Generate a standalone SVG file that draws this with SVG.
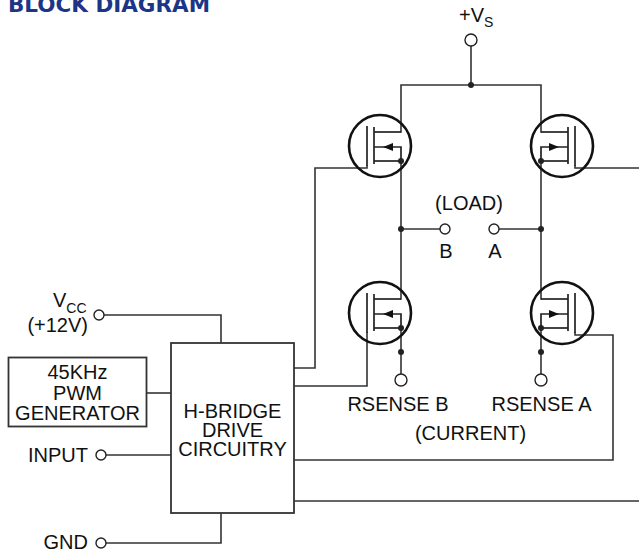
<svg xmlns="http://www.w3.org/2000/svg" width="639" height="552" viewBox="0 0 639 552">
<style>
.w{fill:none;stroke:#333;stroke-width:1.6;stroke-linecap:square}
.box{fill:#fff;stroke:#333;stroke-width:1.8}
.term{fill:#fff;stroke:#222;stroke-width:1.4}
.dot{fill:#222}
.t{font-family:"Liberation Sans",Arial,sans-serif;font-size:20px;fill:#111}
.sub{font-size:14px}
.title{font-family:"DejaVu Sans","Liberation Sans",sans-serif;font-weight:bold;font-size:22px;fill:#1c3687}
.fc{fill:none;stroke:#111;stroke-width:2.6}
.fl{fill:none;stroke:#222;stroke-width:1.7}
</style>
<defs>
<g id="nfet">
<circle class="fc" cx="-21" cy="0" r="31"/>
<line class="fl" x1="-34" y1="-20" x2="-34" y2="20"/>
<line class="fl" x1="-27" y1="-19" x2="-27" y2="18"/>
<polyline class="fl" points="-27,-14 0,-14"/>
<polyline class="fl" points="-27,1 0,1 0,15"/>
<line class="fl" x1="-27" y1="15" x2="0" y2="15"/>
<polygon fill="#111" points="-18,1 -8,-3 -8,5"/>
<circle class="dot" cx="0" cy="15" r="3"/>
</g>
</defs>
<rect width="639" height="552" fill="#fff"/>
<text id="title" class="title" x="8" y="12" textLength="202" lengthAdjust="spacingAndGlyphs">BLOCK DIAGRAM</text>

<g id="connectors">
<line class="w" x1="471" y1="46" x2="471" y2="85"/>
<polyline class="w" points="401,132 401,85 541,85 541,132"/>
<line class="w" x1="401" y1="161" x2="401" y2="299"/>
<line class="w" x1="541" y1="161" x2="541" y2="299"/>
<line class="w" x1="401" y1="328" x2="401" y2="374"/>
<line class="w" x1="541" y1="328" x2="541" y2="374"/>
<line class="w" x1="401" y1="229" x2="440" y2="229"/>
<line class="w" x1="499" y1="229" x2="541" y2="229"/>
<polyline class="w" points="367,166 367,168 315,168 315,368 294,368"/>
<polyline class="w" points="575,166 575,168 639,168"/>
<polyline class="w" points="367,333 367,386 294,386"/>
<polyline class="w" points="575,333 575,335 613,335 613,460 294,460"/>
<line class="w" x1="294" y1="501" x2="639" y2="501"/>
<polyline class="w" points="104,315 221,315 221,343"/>
<line class="w" x1="146.5" y1="393" x2="171" y2="393"/>
<line class="w" x1="106" y1="455" x2="171" y2="455"/>
<polyline class="w" points="106,543 221,543 221,513"/>
<circle class="dot" cx="471" cy="85" r="3"/>
<circle class="dot" cx="401" cy="229" r="3"/>
<circle class="dot" cx="541" cy="229" r="3"/>
<circle class="dot" cx="401" cy="352" r="3"/>
<circle class="dot" cx="541" cy="352" r="3"/>
</g>

<g id="vs">
<circle class="term" cx="471" cy="40" r="6"/>
<text class="t" x="459" y="22">+V<tspan class="sub" dy="5">S</tspan></text>
</g>

<g id="q1"><use href="#nfet" transform="translate(401,146)"/></g>
<g id="q2"><use href="#nfet" transform="translate(541,146) scale(-1,1)"/></g>
<g id="q3"><use href="#nfet" transform="translate(401,313)"/></g>
<g id="q4"><use href="#nfet" transform="translate(541,313) scale(-1,1)"/></g>

<g id="load">
<circle class="term" cx="445" cy="229" r="5"/>
<circle class="term" cx="494" cy="229" r="5"/>
<text class="t" x="469" y="210" text-anchor="middle">(LOAD)</text>
<text class="t" x="446" y="258" text-anchor="middle">B</text>
<text class="t" x="495" y="258" text-anchor="middle">A</text>
</g>

<g id="rsense">
<circle class="term" cx="401" cy="380" r="6"/>
<circle class="term" cx="541" cy="380" r="6"/>
<text class="t" x="398" y="411" text-anchor="middle">RSENSE B</text>
<text class="t" x="541.5" y="411" text-anchor="middle">RSENSE A</text>
<text class="t" x="470.5" y="440" text-anchor="middle">(CURRENT)</text>
</g>

<g id="vcc">
<circle class="term" cx="99" cy="315" r="5"/>
<text class="t" x="53" y="307">V<tspan class="sub" dy="6">CC</tspan></text>
<text class="t" x="88" y="332" text-anchor="end">(+12V)</text>
</g>

<g id="pwm">
<rect class="box" x="8.5" y="357.5" width="138" height="69"/>
<text class="t" x="77.5" y="379" text-anchor="middle">45KHz</text>
<text class="t" x="77.5" y="400" text-anchor="middle">PWM</text>
<text class="t" x="77.5" y="420" text-anchor="middle">GENERATOR</text>
</g>

<g id="drive">
<rect class="box" x="171" y="343" width="123" height="170"/>
<text class="t" x="232.5" y="418" text-anchor="middle">H-BRIDGE</text>
<text class="t" x="232.5" y="437" text-anchor="middle">DRIVE</text>
<text class="t" x="232.5" y="456" text-anchor="middle">CIRCUITRY</text>
</g>

<g id="input">
<circle class="term" cx="101" cy="455" r="5"/>
<text class="t" x="88" y="462" text-anchor="end">INPUT</text>
</g>

<g id="gnd">
<circle class="term" cx="101" cy="543" r="5"/>
<text class="t" x="88" y="549" text-anchor="end">GND</text>
</g>
</svg>
